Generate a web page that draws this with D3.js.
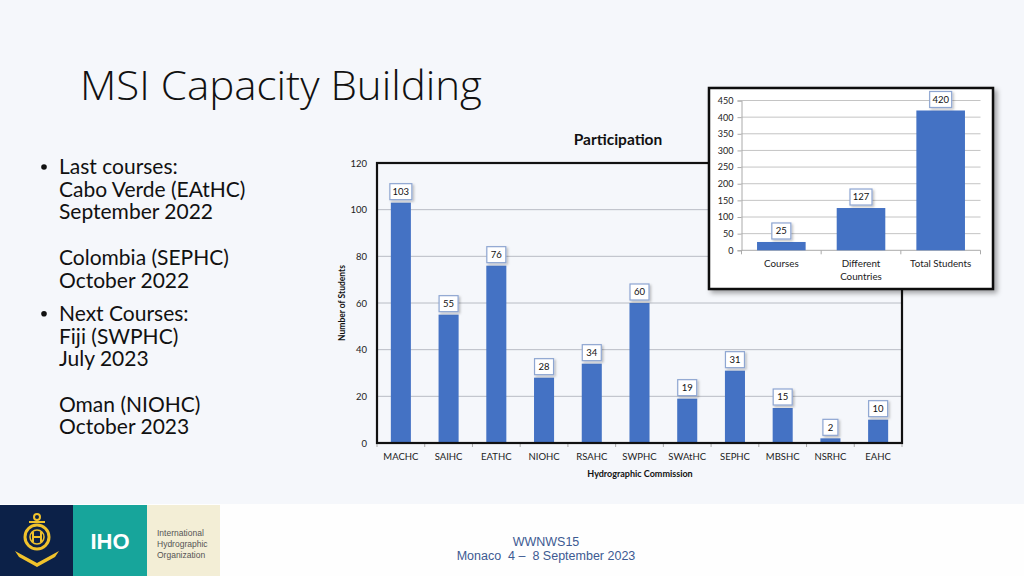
<!DOCTYPE html>
<html><head><meta charset="utf-8">
<script src="https://cdn.jsdelivr.net/npm/d3@7"></script>
<style>
html,body{margin:0;padding:0;background:#f5f7fb;}
svg{display:block;}
</style></head>
<body>
<svg id="c" width="1024" height="576"></svg>
<script>
// ---- data ----
const commissions = ["MACHC","SAIHC","EATHC","NIOHC","RSAHC","SWPHC","SWAtHC","SEPHC","MBSHC","NSRHC","EAHC"];
const students = [103,55,76,28,34,60,19,31,15,2,10];
const mainTicks = [0,20,40,60,80,100,120];
const summaryCats = [["Courses"],["Different","Countries"],["Total Students"]];
const summaryVals = [25,127,420];
const summaryTicks = [0,50,100,150,200,250,300,350,400,450];
const bullets = [
  {b:true, lines:["Last courses:","Cabo Verde (EAtHC)","September 2022"]},
  {b:false, lines:["","Colombia (SEPHC)","October 2022"]},
  {b:true, lines:["Next Courses:","Fiji (SWPHC)","July 2023"]},
  {b:false, lines:["","Oman (NIOHC)","October 2023"]}
];

const svg = d3.select("#c");
const FONT = "Lato, 'Open Sans', sans-serif";
const BLUE = "#4472c4";

const defs = svg.append("defs");
const sh = defs.append("filter").attr("id","sh").attr("x","-10%").attr("y","-10%").attr("width","130%").attr("height","130%");
sh.append("feDropShadow").attr("dx",3).attr("dy",3).attr("stdDeviation",2.5).attr("flood-color","#000").attr("flood-opacity",0.35);
const sh2 = defs.append("filter").attr("id","sh2").attr("x","-30%").attr("y","-30%").attr("width","170%").attr("height","170%");
sh2.append("feDropShadow").attr("dx",1.5).attr("dy",1.5).attr("stdDeviation",1).attr("flood-color","#000").attr("flood-opacity",0.25);

svg.append("rect").attr("width",1024).attr("height",576).attr("fill","#f5f7fb");

// title
svg.append("text").attr("x",80).attr("y",100).attr("font-family","'Open Sans', sans-serif")
  .attr("font-weight",300).attr("font-size",41).attr("fill","#111")
  .attr("textLength",402).attr("lengthAdjust","spacingAndGlyphs").text("MSI Capacity Building");

// bullets
let yb = 174;
const bg = svg.append("g").attr("font-family",FONT).attr("font-size",21).attr("fill","#111");
bullets.forEach(grp=>{
  grp.lines.forEach((ln,i)=>{
    if(i===0 && grp.b){
      bg.append("circle").attr("cx",44).attr("cy",yb-7).attr("r",2.8).attr("fill","#111");
    }
    if(ln) bg.append("text").attr("x",59).attr("y",yb).text(ln);
    yb += 22.7;
  });
  yb += grp.b ? 0 : 10.6;
});

// ---- main chart ----
const mL=377, mR=902, mT=163, mB=443;
const x = d3.scaleBand().domain(commissions).range([mL,mR]).paddingInner(0.58).paddingOuter(0.29);
const y = d3.scaleLinear().domain([0,120]).range([mB,mT]);
const mg = svg.append("g");

mg.append("text").attr("x",618).attr("y",145).attr("text-anchor","middle").attr("font-family",FONT)
  .attr("font-weight",700).attr("font-size",15.5).attr("fill","#111").text("Participation");

// gridlines
mg.append("g").selectAll("line").data(mainTicks.filter(t=>t>0&&t<120)).join("line")
  .attr("x1",mL).attr("x2",mR).attr("y1",d=>y(d)).attr("y2",d=>y(d))
  .attr("stroke","#b8bcc4").attr("stroke-width",1);

// y axis
const ya = mg.append("g").attr("transform",`translate(${mL},0)`)
  .call(d3.axisLeft(y).tickValues(mainTicks).tickSize(0).tickPadding(10));
ya.select(".domain").remove();
ya.selectAll("text").attr("font-family",FONT).attr("font-size",9.5).attr("fill","#222");

// x axis
const xa = mg.append("g").attr("transform",`translate(0,${mB})`)
  .call(d3.axisBottom(x).tickSize(0).tickPadding(10));
xa.select(".domain").remove();
xa.selectAll("text").attr("font-family",FONT).attr("font-size",9.5).attr("fill","#222");
// category boundary ticks
mg.append("g").selectAll("line").data(d3.range(commissions.length+1)).join("line")
  .attr("x1",d=>mL+d*(mR-mL)/commissions.length).attr("x2",d=>mL+d*(mR-mL)/commissions.length)
  .attr("y1",mB).attr("y2",mB+4).attr("stroke","#aaa");

// bars
mg.append("g").selectAll("rect").data(students).join("rect")
  .attr("x",(d,i)=>x(commissions[i])).attr("width",x.bandwidth())
  .attr("y",d=>y(d)).attr("height",d=>y(0)-y(d)).attr("fill",BLUE);

// frame
mg.append("rect").attr("x",mL).attr("y",mT).attr("width",mR-mL).attr("height",mB-mT)
  .attr("fill","none").attr("stroke","#111").attr("stroke-width",2.2);

// value labels
function labelBox(g, cx, topY, txt, fs){
  const w = txt.length>=3 ? 22 : (txt.length==2?19:15), h=16;
  const gg = g.append("g");
  gg.append("rect").attr("x",cx-w/2).attr("y",topY-h-3).attr("width",w).attr("height",h)
    .attr("fill","#fff").attr("stroke","#8ea6d2").attr("stroke-width",1.2).attr("filter","url(#sh2)");
  gg.append("text").attr("x",cx).attr("y",topY-3-h/2+3.4).attr("text-anchor","middle")
    .attr("font-family",FONT).attr("font-size",fs).attr("fill","#111").text(txt);
}
students.forEach((v,i)=>labelBox(mg, x(commissions[i])+x.bandwidth()/2, y(v), String(v), 9.5));

// axis titles
mg.append("text").attr("transform",`translate(345,303) rotate(-90)`).attr("text-anchor","middle")
  .attr("font-family",FONT).attr("font-weight",700).attr("font-size",8.5).attr("fill","#111").text("Number of Students");
mg.append("text").attr("x",640).attr("y",477).attr("text-anchor","middle")
  .attr("font-family",FONT).attr("font-weight",700).attr("font-size",9).attr("fill","#111").text("Hydrographic Commission");

// ---- inset chart ----
const ig = svg.append("g");
ig.append("rect").attr("x",709).attr("y",88).attr("width",284).attr("height",201)
  .attr("fill","#fff").attr("stroke","#111").attr("stroke-width",2.5).attr("filter","url(#sh)");
const iL=741.5, iR=980.5, iT=100.5, iB=250.3;
const x2 = d3.scaleBand().domain(summaryCats.map(d=>d.join(" "))).range([iL,iR]).paddingInner(0.39).paddingOuter(0.195);
const y2 = d3.scaleLinear().domain([0,450]).range([iB,iT]);
ig.append("g").selectAll("line").data(summaryTicks.filter(t=>t>0)).join("line")
  .attr("x1",iL).attr("x2",iR).attr("y1",d=>y2(d)).attr("y2",d=>y2(d)).attr("stroke","#c4c4c4");
const y2a = ig.append("g").attr("transform",`translate(${iL},0)`)
  .call(d3.axisLeft(y2).tickValues(summaryTicks).tickSize(4).tickPadding(4));
y2a.select(".domain").attr("stroke","#aaa");
y2a.selectAll(".tick line").attr("stroke","#aaa");
y2a.selectAll("text").attr("font-family",FONT).attr("font-size",9).attr("fill","#222");
ig.append("line").attr("x1",iL).attr("x2",iR).attr("y1",iB).attr("y2",iB).attr("stroke","#aaa");
ig.append("g").selectAll("line").data(d3.range(4)).join("line")
  .attr("x1",d=>iL+d*(iR-iL)/3).attr("x2",d=>iL+d*(iR-iL)/3).attr("y1",iB).attr("y2",iB+4).attr("stroke","#aaa");
ig.append("g").selectAll("rect").data(summaryVals).join("rect")
  .attr("x",(d,i)=>x2(summaryCats[i].join(" "))).attr("width",x2.bandwidth())
  .attr("y",d=>y2(d)).attr("height",d=>iB-y2(d)).attr("fill",BLUE);
summaryVals.forEach((v,i)=>labelBox(ig, x2(summaryCats[i].join(" "))+x2.bandwidth()/2, y2(v), String(v), 9.5));
summaryCats.forEach((lines,i)=>{
  const cx = x2(lines.join(" "))+x2.bandwidth()/2;
  lines.forEach((ln,j)=>ig.append("text").attr("x",cx).attr("y",267+j*13).attr("text-anchor","middle")
    .attr("font-family",FONT).attr("font-size",9.8).attr("fill","#222").text(ln));
});

// ---- footer ----
const fg = svg.append("g");
fg.append("rect").attr("x",0).attr("y",504).attr("width",1024).attr("height",72).attr("fill","#fefefe");
fg.append("rect").attr("x",0).attr("y",505).attr("width",74).attr("height",71).attr("fill","#0c2148");
fg.append("rect").attr("x",73).attr("y",505).attr("width",75).attr("height",71).attr("fill","#17a59b");
fg.append("rect").attr("x",147).attr("y",505).attr("width",73).attr("height",71).attr("fill","#f3eed6");
fg.append("text").attr("x",110).attr("y",549).attr("text-anchor","middle").attr("font-family","'Liberation Sans', Arial, sans-serif")
  .attr("font-weight",700).attr("font-size",22).attr("fill","#fff").text("IHO");
["International","Hydrographic","Organization"].forEach((t,i)=>fg.append("text").attr("x",157).attr("y",536+i*11)
  .attr("font-family","'Liberation Sans', Arial, sans-serif").attr("font-size",8.5).attr("fill","#555").text(t));
// emblem
const Y="#f0c22c";
const em = fg.append("g").attr("stroke",Y).attr("fill","none").attr("stroke-width",2);
em.append("circle").attr("cx",37).attr("cy",517).attr("r",3);
em.append("line").attr("x1",29).attr("x2",45).attr("y1",522).attr("y2",522);
em.append("circle").attr("cx",37).attr("cy",537).attr("r",12).attr("stroke-width",3);
em.append("circle").attr("cx",37).attr("cy",537).attr("r",7).attr("stroke-width",1.5);
em.append("path").attr("d","M33,532 V542 M41,532 V542 M33,537 H41").attr("stroke-width",2);
fg.append("path").attr("d","M15,551 L37,563 L59,551 L55,557 L37,567 L19,557 Z").attr("fill",Y);

fg.append("text").attr("x",546).attr("y",546).attr("text-anchor","middle").attr("font-family","'Liberation Sans', Arial, sans-serif")
  .attr("font-size",12.5).attr("fill","#3d5a92").text("WWNWS15");
fg.append("text").attr("x",546).attr("y",560).attr("text-anchor","middle").attr("font-family","'Liberation Sans', Arial, sans-serif")
  .attr("font-size",12.5).attr("fill","#3d5a92").attr("xml:space","preserve").text("Monaco  4 –  8 September 2023");
</script>
</body></html>
